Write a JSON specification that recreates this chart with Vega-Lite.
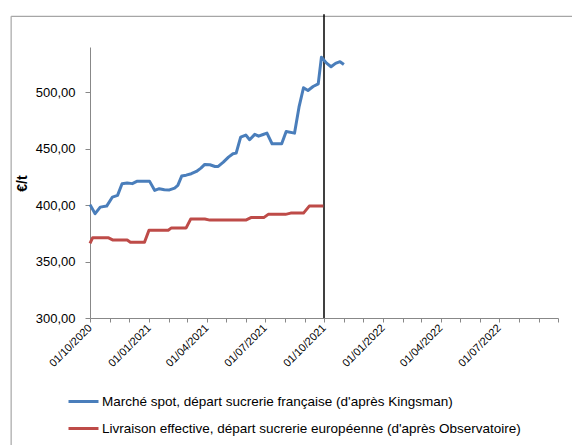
{
  "$schema": "https://vega.github.io/schema/vega-lite/v6.json",
  "width": 468,
  "height": 271,
  "autosize": "none",
  "padding": {"left": 90, "top": 47, "right": 14, "bottom": 127},
  "background": "white",
  "config": {
    "font": "Liberation Sans",
    "view": {"stroke": null},
    "axis": {"grid": false, "domainColor": "#888888", "tickColor": "#888888", "labelColor": "#000000", "labelFont": "Liberation Sans"}
  },
  "datasets": {
    "prices": [
      {"date": "2020-10-01", "value": 400.4, "series": "Marché spot, départ sucrerie française (d'après Kingsman)"},
      {"date": "2020-10-09", "value": 392.4, "series": "Marché spot, départ sucrerie française (d'après Kingsman)"},
      {"date": "2020-10-17", "value": 398.2, "series": "Marché spot, départ sucrerie française (d'après Kingsman)"},
      {"date": "2020-10-27", "value": 399.1, "series": "Marché spot, départ sucrerie française (d'après Kingsman)"},
      {"date": "2020-11-05", "value": 407.1, "series": "Marché spot, départ sucrerie française (d'après Kingsman)"},
      {"date": "2020-11-13", "value": 408.6, "series": "Marché spot, départ sucrerie française (d'après Kingsman)"},
      {"date": "2020-11-20", "value": 418.9, "series": "Marché spot, départ sucrerie française (d'après Kingsman)"},
      {"date": "2020-11-28", "value": 419.5, "series": "Marché spot, départ sucrerie française (d'après Kingsman)"},
      {"date": "2020-12-06", "value": 419.0, "series": "Marché spot, départ sucrerie française (d'après Kingsman)"},
      {"date": "2020-12-13", "value": 421.0, "series": "Marché spot, départ sucrerie française (d'après Kingsman)"},
      {"date": "2020-12-22", "value": 421.0, "series": "Marché spot, départ sucrerie française (d'après Kingsman)"},
      {"date": "2021-01-02", "value": 421.0, "series": "Marché spot, départ sucrerie française (d'après Kingsman)"},
      {"date": "2021-01-10", "value": 413.0, "series": "Marché spot, départ sucrerie française (d'après Kingsman)"},
      {"date": "2021-01-17", "value": 414.5, "series": "Marché spot, départ sucrerie française (d'après Kingsman)"},
      {"date": "2021-01-25", "value": 413.6, "series": "Marché spot, départ sucrerie française (d'après Kingsman)"},
      {"date": "2021-02-02", "value": 413.4, "series": "Marché spot, départ sucrerie française (d'après Kingsman)"},
      {"date": "2021-02-10", "value": 415.0, "series": "Marché spot, départ sucrerie française (d'après Kingsman)"},
      {"date": "2021-02-15", "value": 417.4, "series": "Marché spot, départ sucrerie française (d'après Kingsman)"},
      {"date": "2021-02-21", "value": 425.7, "series": "Marché spot, départ sucrerie française (d'après Kingsman)"},
      {"date": "2021-02-28", "value": 426.5, "series": "Marché spot, départ sucrerie française (d'après Kingsman)"},
      {"date": "2021-03-08", "value": 427.8, "series": "Marché spot, départ sucrerie française (d'après Kingsman)"},
      {"date": "2021-03-16", "value": 429.8, "series": "Marché spot, départ sucrerie française (d'après Kingsman)"},
      {"date": "2021-03-23", "value": 432.7, "series": "Marché spot, départ sucrerie française (d'après Kingsman)"},
      {"date": "2021-03-29", "value": 436.0, "series": "Marché spot, départ sucrerie française (d'après Kingsman)"},
      {"date": "2021-04-06", "value": 435.7, "series": "Marché spot, départ sucrerie française (d'après Kingsman)"},
      {"date": "2021-04-14", "value": 434.2, "series": "Marché spot, départ sucrerie française (d'après Kingsman)"},
      {"date": "2021-04-19", "value": 434.2, "series": "Marché spot, départ sucrerie française (d'après Kingsman)"},
      {"date": "2021-04-27", "value": 438.0, "series": "Marché spot, départ sucrerie française (d'après Kingsman)"},
      {"date": "2021-05-05", "value": 442.5, "series": "Marché spot, départ sucrerie française (d'après Kingsman)"},
      {"date": "2021-05-12", "value": 445.5, "series": "Marché spot, départ sucrerie française (d'après Kingsman)"},
      {"date": "2021-05-17", "value": 446.0, "series": "Marché spot, départ sucrerie française (d'après Kingsman)"},
      {"date": "2021-05-24", "value": 460.2, "series": "Marché spot, départ sucrerie française (d'après Kingsman)"},
      {"date": "2021-06-01", "value": 462.0, "series": "Marché spot, départ sucrerie française (d'après Kingsman)"},
      {"date": "2021-06-07", "value": 457.9, "series": "Marché spot, départ sucrerie française (d'après Kingsman)"},
      {"date": "2021-06-15", "value": 462.6, "series": "Marché spot, départ sucrerie française (d'après Kingsman)"},
      {"date": "2021-06-21", "value": 461.0, "series": "Marché spot, départ sucrerie française (d'après Kingsman)"},
      {"date": "2021-06-28", "value": 462.5, "series": "Marché spot, départ sucrerie française (d'après Kingsman)"},
      {"date": "2021-07-04", "value": 463.7, "series": "Marché spot, départ sucrerie française (d'après Kingsman)"},
      {"date": "2021-07-12", "value": 454.3, "series": "Marché spot, départ sucrerie française (d'après Kingsman)"},
      {"date": "2021-07-27", "value": 454.3, "series": "Marché spot, départ sucrerie française (d'après Kingsman)"},
      {"date": "2021-08-03", "value": 465.2, "series": "Marché spot, départ sucrerie française (d'après Kingsman)"},
      {"date": "2021-08-16", "value": 463.7, "series": "Marché spot, départ sucrerie française (d'après Kingsman)"},
      {"date": "2021-08-23", "value": 486.7, "series": "Marché spot, départ sucrerie française (d'après Kingsman)"},
      {"date": "2021-08-30", "value": 503.9, "series": "Marché spot, départ sucrerie française (d'après Kingsman)"},
      {"date": "2021-09-06", "value": 501.5, "series": "Marché spot, départ sucrerie française (d'après Kingsman)"},
      {"date": "2021-09-14", "value": 505.0, "series": "Marché spot, départ sucrerie française (d'après Kingsman)"},
      {"date": "2021-09-22", "value": 507.4, "series": "Marché spot, départ sucrerie française (d'après Kingsman)"},
      {"date": "2021-09-27", "value": 531.0, "series": "Marché spot, départ sucrerie française (d'après Kingsman)"},
      {"date": "2021-10-05", "value": 525.7, "series": "Marché spot, départ sucrerie française (d'après Kingsman)"},
      {"date": "2021-10-12", "value": 522.5, "series": "Marché spot, départ sucrerie française (d'après Kingsman)"},
      {"date": "2021-10-19", "value": 525.5, "series": "Marché spot, départ sucrerie française (d'après Kingsman)"},
      {"date": "2021-10-26", "value": 527.0, "series": "Marché spot, départ sucrerie française (d'après Kingsman)"},
      {"date": "2021-11-01", "value": 524.5, "series": "Marché spot, départ sucrerie française (d'après Kingsman)"},
      {"date": "2020-10-01", "value": 366.0, "series": "Livraison effective, départ sucrerie européenne (d'après Observatoire)"},
      {"date": "2020-10-05", "value": 371.0, "series": "Livraison effective, départ sucrerie européenne (d'après Observatoire)"},
      {"date": "2020-10-30", "value": 371.0, "series": "Livraison effective, départ sucrerie européenne (d'après Observatoire)"},
      {"date": "2020-11-06", "value": 369.0, "series": "Livraison effective, départ sucrerie européenne (d'après Observatoire)"},
      {"date": "2020-11-28", "value": 369.0, "series": "Livraison effective, départ sucrerie européenne (d'après Observatoire)"},
      {"date": "2020-12-03", "value": 367.0, "series": "Livraison effective, départ sucrerie européenne (d'après Observatoire)"},
      {"date": "2020-12-25", "value": 367.0, "series": "Livraison effective, départ sucrerie européenne (d'après Observatoire)"},
      {"date": "2021-01-01", "value": 377.8, "series": "Livraison effective, départ sucrerie européenne (d'après Observatoire)"},
      {"date": "2021-01-31", "value": 377.8, "series": "Livraison effective, départ sucrerie européenne (d'après Observatoire)"},
      {"date": "2021-02-05", "value": 379.8, "series": "Livraison effective, départ sucrerie européenne (d'après Observatoire)"},
      {"date": "2021-02-28", "value": 379.8, "series": "Livraison effective, départ sucrerie européenne (d'après Observatoire)"},
      {"date": "2021-03-07", "value": 387.6, "series": "Livraison effective, départ sucrerie européenne (d'après Observatoire)"},
      {"date": "2021-03-29", "value": 387.6, "series": "Livraison effective, départ sucrerie européenne (d'après Observatoire)"},
      {"date": "2021-04-06", "value": 386.7, "series": "Livraison effective, départ sucrerie européenne (d'après Observatoire)"},
      {"date": "2021-06-01", "value": 386.7, "series": "Livraison effective, départ sucrerie européenne (d'après Observatoire)"},
      {"date": "2021-06-09", "value": 388.9, "series": "Livraison effective, départ sucrerie européenne (d'après Observatoire)"},
      {"date": "2021-06-29", "value": 388.9, "series": "Livraison effective, départ sucrerie européenne (d'après Observatoire)"},
      {"date": "2021-07-06", "value": 391.8, "series": "Livraison effective, départ sucrerie européenne (d'après Observatoire)"},
      {"date": "2021-08-02", "value": 391.8, "series": "Livraison effective, départ sucrerie européenne (d'après Observatoire)"},
      {"date": "2021-08-10", "value": 392.9, "series": "Livraison effective, départ sucrerie européenne (d'après Observatoire)"},
      {"date": "2021-08-30", "value": 392.9, "series": "Livraison effective, départ sucrerie européenne (d'après Observatoire)"},
      {"date": "2021-09-08", "value": 399.1, "series": "Livraison effective, départ sucrerie européenne (d'après Observatoire)"},
      {"date": "2021-09-30", "value": 399.1, "series": "Livraison effective, départ sucrerie européenne (d'après Observatoire)"}
    ],
    "marker": [
      {"date": "2021-10-01", "value": 300, "value2": 568.9}
    ],
    "frame": [
      {"date": "2020-05-31", "date2": "2020-05-31", "value": 150, "value2": 567.2},
      {"date": "2020-05-31", "date2": "2022-12-31", "value": 567.2, "value2": 567.2}
    ]
  },
  "encoding": {
    "x": {
      "field": "date", "type": "temporal",
      "scale": {"type": "utc", "domain": [1601510400000, 1664582400000], "nice": false},
      "axis": {
        "title": null,
        "values": [1601510400000, 1604188800000, 1606780800000, 1609459200000, 1612137600000, 1614556800000, 1617235200000, 1619827200000, 1622505600000, 1625097600000, 1627776000000, 1630454400000, 1633046400000, 1635724800000, 1638316800000, 1640995200000, 1643673600000, 1646092800000, 1648771200000, 1651363200000, 1654041600000, 1656633600000, 1659312000000, 1661990400000, 1664582400000],
        "labelExpr": "utcmonth(datum.value) % 3 == 0 && datum.value < 1662000000000 ? utcFormat(datum.value, '%d/%m/%Y') : ''",
        "labelAngle": -45,
        "labelAlign": "right",
        "labelBaseline": "middle",
        "labelFontSize": 11,
        "labelPadding": 4,
        "labelOverlap": false,
        "labelBound": false,
        "labelFlush": false,
        "tickSize": 4
      }
    },
    "y": {
      "field": "value", "type": "quantitative",
      "scale": {"domain": [300, 540], "nice": false, "zero": false},
      "axis": {
        "title": "€/t",
        "titleFontWeight": "bold",
        "titleFontSize": 14,
        "titleColor": "#000000",
        "titleX": -68,
        "titleY": 136,
        "titleAngle": -90,
        "titleAlign": "center",
        "titleBaseline": "middle",
        "values": [300, 350, 400, 450, 500],
        "labelExpr": "replace(format(datum.value, '.2f'), '.', ',')",
        "labelFontSize": 13,
        "labelPadding": 10,
        "tickSize": 5
      }
    }
  },
  "layer": [
    {
      "data": {"name": "frame"},
      "mark": {"type": "rule", "color": "#A6A6A6", "strokeWidth": 1.2, "clip": false},
      "encoding": {
        "x2": {"field": "date2"},
        "y2": {"field": "value2"}
      }
    },
    {
      "data": {"name": "marker"},
      "mark": {"type": "rule", "color": "#000000", "strokeWidth": 1.5, "clip": false},
      "encoding": {
        "y2": {"field": "value2"}
      }
    },
    {
      "data": {"name": "prices"},
      "mark": {"type": "line", "strokeWidth": 3, "strokeJoin": "round"},
      "encoding": {
        "color": {
          "field": "series", "type": "nominal",
          "scale": {
            "domain": ["Marché spot, départ sucrerie française (d'après Kingsman)", "Livraison effective, départ sucrerie européenne (d'après Observatoire)"],
            "range": ["#4A7EBB", "#BE4B48"]
          },
          "legend": {
            "title": null,
            "orient": "none",
            "legendX": -23,
            "legendY": 338,
            "direction": "vertical",
            "symbolType": "stroke",
            "symbolSize": 900,
            "symbolStrokeWidth": 3,
            "labelFontSize": 13.5,
            "labelColor": "#000000",
            "labelFont": "Liberation Sans",
            "labelLimit": 600,
            "labelOffset": 2,
            "rowPadding": 4,
            "padding": 0
          }
        }
      }
    }
  ]
}
